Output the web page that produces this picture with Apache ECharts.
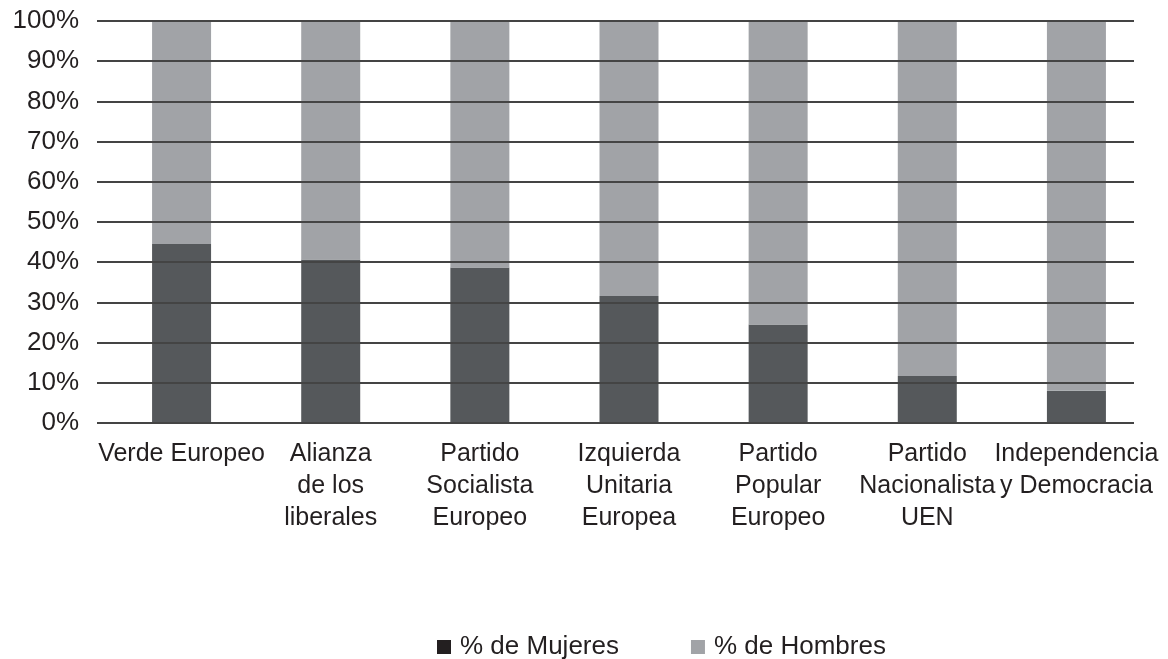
<!DOCTYPE html>
<html>
<head>
<meta charset="utf-8">
<script src="https://cdn.jsdelivr.net/npm/echarts@6/dist/echarts.min.js"></script>
<style>
html,body{margin:0;padding:0;background:#fff;}
#chart{width:1168px;height:659px;}
</style>
</head>
<body>
<div id="chart"></div>
<script>
const categories = [
  'Verde Europeo',
  'Alianza\nde los\nliberales',
  'Partido\nSocialista\nEuropeo',
  'Izquierda\nUnitaria\nEuropea',
  'Partido\nPopular\nEuropeo',
  'Partido\nNacionalista\nUEN',
  'Independencia\ny Democracia'
];
const mujeres = [44.5, 40.7, 38.7, 31.6, 24.5, 11.7, 8.0];
const hombres = [55.5, 59.3, 61.3, 68.4, 75.5, 88.3, 92.0];
const seriesNames = ['% de Mujeres', '% de Hombres'];

const FONT = '"Liberation Sans", Arial, sans-serif';
const chart = echarts.init(document.getElementById('chart'), null, {renderer: 'canvas'});
chart.setOption({
  backgroundColor: '#ffffff',
  animation: false,
  textStyle: {fontFamily: FONT, color: '#231f20'},
  grid: [
    {left: 97, right: 34, top: 21, bottom: 236},
    {left: 107, width: 1044, top: 21, bottom: 236}
  ],
  xAxis: [
    {gridIndex: 0, type: 'category', data: categories, show: false},
    {gridIndex: 1, type: 'category', data: categories,
     axisLine: {show: false}, axisTick: {show: false},
     axisLabel: {interval: 0, margin: 15, fontSize: 25, lineHeight: 32, color: '#231f20', fontFamily: FONT, align: 'center'}}
  ],
  yAxis: [
    {gridIndex: 0, type: 'value', min: 0, max: 100, interval: 10, z: 5,
     axisLine: {show: false}, axisTick: {show: false},
     splitLine: {show: true, lineStyle: {color: '#444', width: 2}},
     axisLabel: {formatter: '{value}%', fontSize: 26, margin: 18, color: '#231f20', fontFamily: FONT}},
    {gridIndex: 1, type: 'value', min: 0, max: 100, show: false, splitLine: {show: false}}
  ],
  legend: {
    left: 432, top: 629,
    icon: 'rect', itemWidth: 14, itemHeight: 14, itemGap: 72,
    textStyle: {fontSize: 26, color: '#231f20', fontFamily: FONT, padding: [0, 0, 0, 4]},
    data: [
      {name: seriesNames[0], itemStyle: {color: '#231f20'}},
      {name: seriesNames[1], itemStyle: {color: '#a1a3a7'}}
    ]
  },
  series: [
    {name: seriesNames[0], type: 'bar', stack: 'total', xAxisIndex: 1, yAxisIndex: 1,
     barWidth: 59, data: mujeres, itemStyle: {color: '#55585b'}},
    {name: seriesNames[1], type: 'bar', stack: 'total', xAxisIndex: 1, yAxisIndex: 1,
     barWidth: 59, data: hombres, itemStyle: {color: '#a1a3a7'}}
  ]
});
</script>
</body>
</html>
